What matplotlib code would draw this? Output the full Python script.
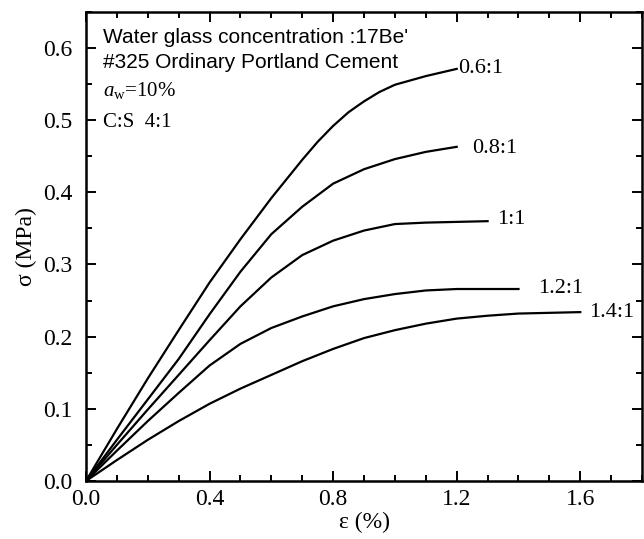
import matplotlib.pyplot as plt
from matplotlib.ticker import MultipleLocator

plt.rcParams['font.family'] = ['Liberation Serif', 'DejaVu Serif']
plt.rcParams['mathtext.fontset'] = 'custom'
plt.rcParams['mathtext.rm'] = 'Liberation Serif'
plt.rcParams['mathtext.it'] = 'Liberation Serif:italic'

# strain (%) and stress (MPa), one pair per ratio
x_06 = [0, 0.1, 0.2, 0.3, 0.4, 0.5, 0.6, 0.7, 0.75, 0.8, 0.85, 0.9, 0.95, 1.0, 1.1, 1.2]
y_06 = [0, 0.072, 0.142, 0.209, 0.275, 0.335, 0.392, 0.445, 0.47, 0.492, 0.511, 0.526, 0.539,
        0.549, 0.561, 0.571]
x_08 = [0, 0.1, 0.2, 0.3, 0.4, 0.5, 0.6, 0.7, 0.8, 0.9, 1.0, 1.1, 1.2]
y_08 = [0, 0.057, 0.113, 0.169, 0.231, 0.29, 0.342, 0.38, 0.412, 0.432, 0.446, 0.456, 0.463]
x_10 = [0, 0.1, 0.2, 0.3, 0.4, 0.5, 0.6, 0.7, 0.8, 0.9, 1.0, 1.1, 1.2, 1.3]
y_10 = [0, 0.05, 0.099, 0.147, 0.195, 0.242, 0.282, 0.313, 0.333, 0.347, 0.356, 0.358, 0.359, 0.36]
x_12 = [0, 0.1, 0.2, 0.3, 0.4, 0.5, 0.6, 0.7, 0.8, 0.9, 1.0, 1.1, 1.2, 1.3, 1.4]
y_12 = [0, 0.042, 0.083, 0.122, 0.16, 0.19, 0.212, 0.228, 0.242, 0.252, 0.259, 0.264, 0.266, 0.266, 0.266]
x_14 = [0, 0.1, 0.2, 0.3, 0.4, 0.5, 0.6, 0.7, 0.8, 0.9, 1.0, 1.1, 1.2, 1.3, 1.4, 1.5, 1.6]
y_14 = [0, 0.029, 0.057, 0.083, 0.107, 0.128, 0.147, 0.166, 0.183, 0.198, 0.209, 0.218, 0.225,
        0.229, 0.232, 0.233, 0.234]

labels = ['0.6:1', '0.8:1', '1:1', '1.2:1', '1.4:1']
label_pos = [(1.205, 0.571), (1.25, 0.46), (1.33, 0.362), (1.465, 0.267), (1.63, 0.233)]

fig = plt.figure(figsize=(6.44, 5.39), dpi=100)
ax = fig.add_axes([0.1335, 0.1076, 0.8635, 0.8704])

for xs, ys in [(x_06, y_06), (x_08, y_08), (x_10, y_10), (x_12, y_12), (x_14, y_14)]:
    ax.plot(xs, ys, color='black', lw=1.6)

for lab, (lx, ly) in zip(labels, label_pos):
    ax.text(lx, ly, lab, fontsize=16, va='center', ha='left')

ax.set_xlim(0, 1.8)
ax.set_ylim(0, 0.65)
ax.xaxis.set_major_locator(MultipleLocator(0.4))
ax.xaxis.set_minor_locator(MultipleLocator(0.1))
ax.yaxis.set_major_locator(MultipleLocator(0.1))
ax.yaxis.set_minor_locator(MultipleLocator(0.05))
ax.xaxis.set_major_formatter(lambda v, p: f'{v:.1f}')
ax.yaxis.set_major_formatter(lambda v, p: f'{v:.1f}')
ax.tick_params(which='both', direction='in', top=True, right=True, width=1.4, labelsize=17)
ax.tick_params(which='major', length=7)
ax.tick_params(which='minor', length=4)
ax.tick_params(axis='x', which='major', pad=6)
ax.tick_params(axis='y', which='major', pad=10)
for s in ax.spines.values():
    s.set_linewidth(1.8)

ax.set_xlabel('ε (%)', fontsize=17, labelpad=1)
ax.set_ylabel('σ (MPa)', fontsize=17, labelpad=4)

sans = ['Liberation Sans', 'DejaVu Sans']
ax.text(0.03, 0.945, "Water glass concentration :17Be'", transform=ax.transAxes,
        fontsize=15, family=sans, va='center')
ax.text(0.03, 0.891, '#325 Ordinary Portland Cement', transform=ax.transAxes,
        fontsize=15, family=sans, va='center')
ax.text(0.03, 0.832, r'$a_{\mathrm{w}}$=10%', transform=ax.transAxes, fontsize=15, va='center')
ax.text(0.03, 0.765, 'C:S  4:1', transform=ax.transAxes, fontsize=15, va='center')

fig.savefig('out.png', dpi=100)
